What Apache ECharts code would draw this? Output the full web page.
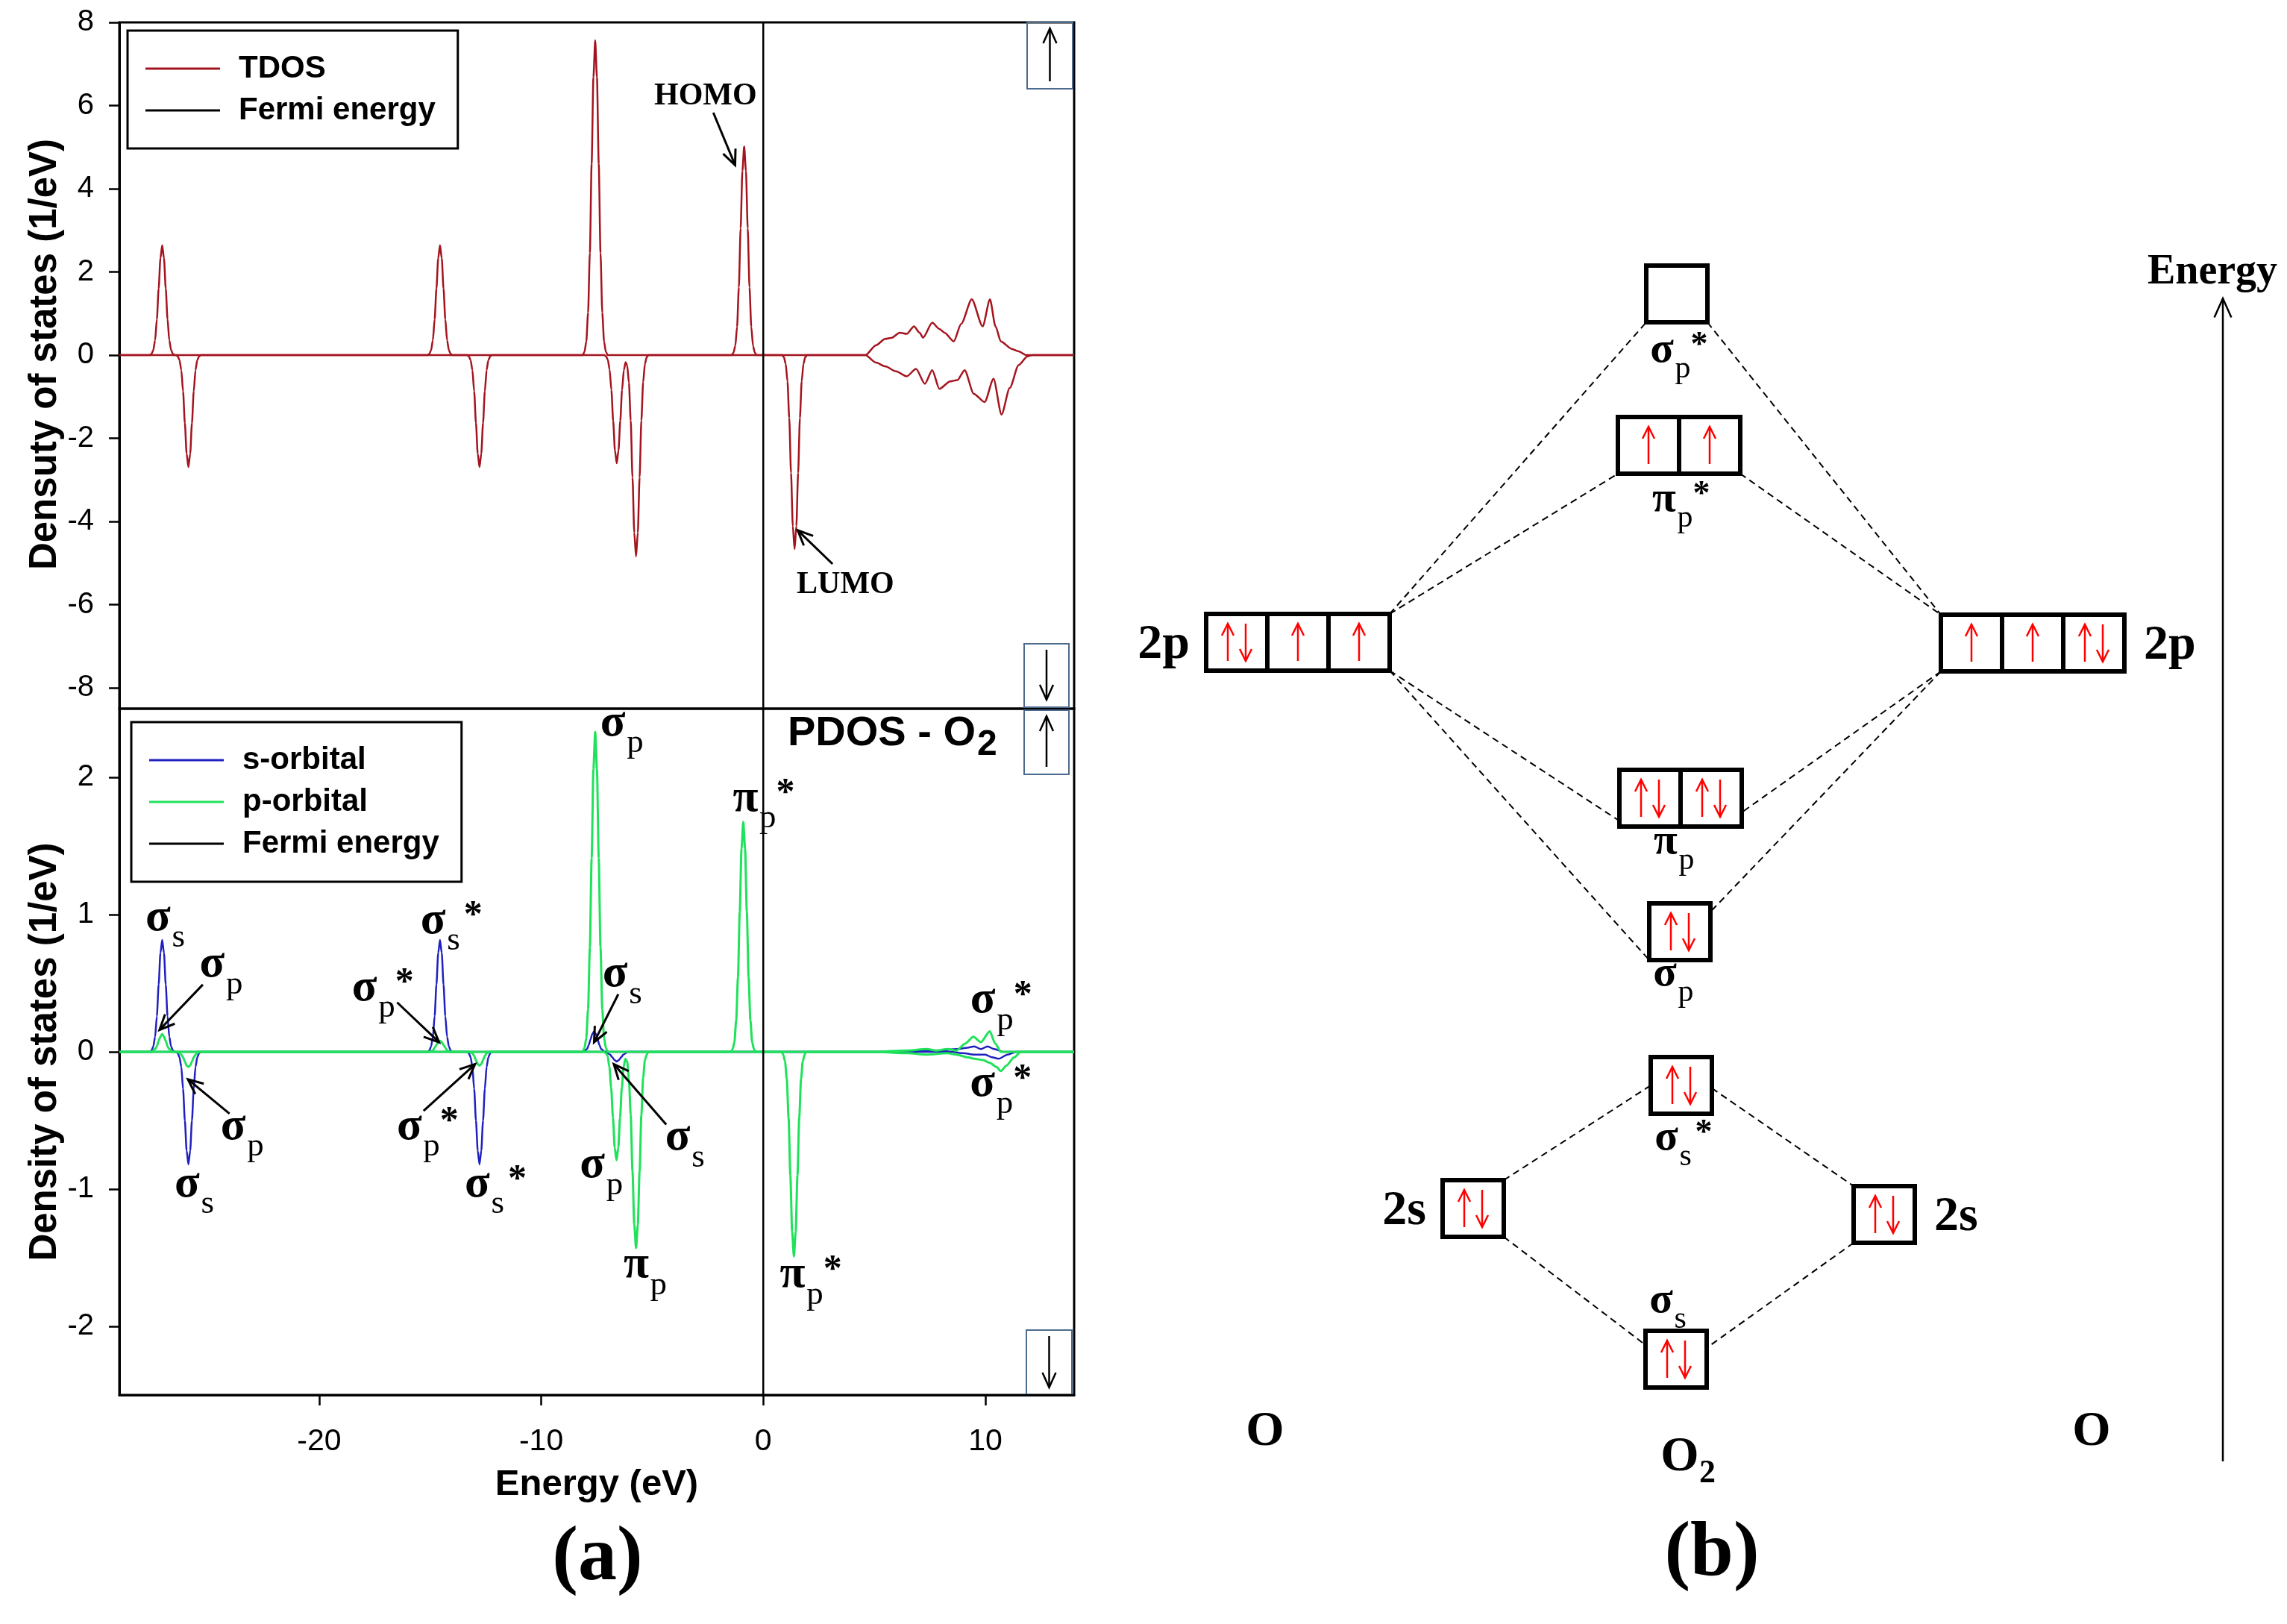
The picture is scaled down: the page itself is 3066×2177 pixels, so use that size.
<!DOCTYPE html>
<html><head><meta charset="utf-8">
<script src="https://cdn.jsdelivr.net/npm/echarts@6/dist/echarts.min.js"></script>
<style>html,body{margin:0;padding:0;background:#fff}#c{width:3066px;height:2177px}</style>
</head><body><div id="c"></div><script>
// ---------- Panel (a) data: energy (eV) vs DOS (1/eV) ----------
const tdosUp = [[-29,0],
[-27.63,0],[-27.55,0.03],[-27.47,0.12],[-27.39,0.36],[-27.31,0.86],[-27.23,1.6],[-27.15,2.33],[-27.07,2.64],[-26.99,2.33],[-26.91,1.6],[-26.83,0.86],[-26.75,0.36],[-26.67,0.12],[-26.59,0.03],[-26.51,0],
[-15.12,0],[-15.04,0.03],[-14.96,0.12],[-14.88,0.36],[-14.8,0.86],[-14.72,1.6],[-14.64,2.33],[-14.56,2.64],[-14.48,2.33],[-14.4,1.6],[-14.32,0.86],[-14.24,0.36],[-14.16,0.12],[-14.08,0.03],[-14,0],
[-8.13,0],[-8.05,0.08],[-7.97,0.33],[-7.89,1.02],[-7.81,2.46],[-7.73,4.6],[-7.65,6.68],[-7.57,7.57],[-7.49,6.68],[-7.41,4.6],[-7.33,2.46],[-7.25,1.02],[-7.17,0.33],[-7.09,0.08],[-7.01,0],
[-1.42,0],[-1.34,0.06],[-1.26,0.22],[-1.18,0.68],[-1.1,1.63],[-1.02,3.05],[-0.94,4.43],[-0.86,5.02],[-0.78,4.43],[-0.7,3.05],[-0.62,1.63],[-0.54,0.68],[-0.46,0.22],[-0.38,0.06],[-0.3,0],
[4.6,0],[5.08,0.24],[5.49,0.39],[5.8,0.42],[6.14,0.54],[6.46,0.51],[6.79,0.69],[7.04,0.54],[7.2,0.42],[7.61,0.78],[7.93,0.63],[8.16,0.54],[8.58,0.33],[8.91,0.75],[9.39,1.34],[9.88,0.69],[10.21,1.34],[10.46,0.69],[10.7,0.33],[11.19,0.15],[11.5,0.09],[11.84,0],
[14,0]];
const tdosDown = [[-29,0],
[-26.45,0],[-26.37,-0.03],[-26.29,-0.12],[-26.21,-0.36],[-26.13,-0.87],[-26.05,-1.63],[-25.97,-2.37],[-25.89,-2.69],[-25.81,-2.37],[-25.73,-1.63],[-25.65,-0.87],[-25.57,-0.36],[-25.49,-0.12],[-25.41,-0.03],[-25.33,0],
[-13.34,0],[-13.26,-0.03],[-13.18,-0.12],[-13.1,-0.36],[-13.02,-0.87],[-12.94,-1.63],[-12.86,-2.37],[-12.78,-2.69],[-12.7,-2.37],[-12.62,-1.63],[-12.54,-0.87],[-12.46,-0.36],[-12.38,-0.12],[-12.3,-0.03],[-12.22,0],
[-7.16,0],[-7.08,-0.03],[-7,-0.11],[-6.92,-0.35],[-6.84,-0.84],[-6.76,-1.58],[-6.68,-2.29],[-6.6,-2.6],[-6.52,-2.29],[-6.44,-1.58],[-6.36,-0.84],[-6.28,-0.36],[-6.2,-0.17],[-6.13,-0.25],[-6.05,-0.66],[-5.97,-1.57],[-5.89,-2.94],[-5.81,-4.27],[-5.73,-4.84],[-5.65,-4.27],[-5.57,-2.94],[-5.49,-1.57],[-5.41,-0.65],[-5.33,-0.21],[-5.25,-0.05],[-5.17,0],
[0.85,0],[0.93,-0.05],[1.01,-0.21],[1.09,-0.63],[1.17,-1.51],[1.25,-2.83],[1.33,-4.11],[1.41,-4.66],[1.49,-4.11],[1.57,-2.83],[1.65,-1.51],[1.73,-0.63],[1.81,-0.21],[1.89,-0.05],[1.97,0],
[4.6,0],[5.08,-0.18],[5.49,-0.27],[5.98,-0.39],[6.46,-0.51],[6.88,-0.33],[7.28,-0.69],[7.61,-0.36],[7.93,-0.81],[8.42,-0.63],[8.74,-0.6],[9.07,-0.36],[9.48,-0.93],[9.97,-1.13],[10.37,-0.57],[10.73,-1.43],[11.1,-0.79],[11.5,-0.24],[11.9,-0.03],[12.1,0],
[14,0]];
const sUp = [[-29,0],
[-27.63,0],[-27.55,0.01],[-27.47,0.04],[-27.39,0.11],[-27.31,0.26],[-27.23,0.49],[-27.15,0.72],[-27.07,0.815],[-26.99,0.72],[-26.91,0.49],[-26.83,0.26],[-26.75,0.11],[-26.67,0.04],[-26.59,0.01],[-26.51,0],
[-15.12,0],[-15.04,0.01],[-14.96,0.04],[-14.88,0.11],[-14.8,0.26],[-14.72,0.49],[-14.64,0.72],[-14.56,0.815],[-14.48,0.72],[-14.4,0.49],[-14.32,0.26],[-14.24,0.11],[-14.16,0.04],[-14.08,0.01],[-14,0],
[-8.1,0],[-7.94,0.02],[-7.86,0.05],[-7.78,0.09],[-7.7,0.13],[-7.62,0.15],[-7.54,0.13],[-7.46,0.09],[-7.38,0.05],[-7.3,0.02],[-7.14,0],
[5,0],[7.3,0.01],[8,0.01],[8.7,0.02],[9.2,0.03],[9.5,0.04],[9.8,0.02],[10.1,0.04],[10.4,0.02],[10.8,0],
[14,0]];
const sDown = [[-29,0],
[-26.45,0],[-26.37,-0.01],[-26.29,-0.04],[-26.21,-0.11],[-26.13,-0.27],[-26.05,-0.5],[-25.97,-0.72],[-25.89,-0.82],[-25.81,-0.72],[-25.73,-0.5],[-25.65,-0.27],[-25.57,-0.11],[-25.49,-0.04],[-25.41,-0.01],[-25.33,0],
[-13.34,0],[-13.26,-0.01],[-13.18,-0.04],[-13.1,-0.11],[-13.02,-0.27],[-12.94,-0.5],[-12.86,-0.72],[-12.78,-0.82],[-12.7,-0.72],[-12.62,-0.5],[-12.54,-0.27],[-12.46,-0.11],[-12.38,-0.04],[-12.3,-0.01],[-12.22,0],
[-7.1,0],[-6.9,-0.02],[-6.8,-0.04],[-6.7,-0.06],[-6.6,-0.07],[-6.5,-0.06],[-6.4,-0.04],[-6.3,-0.02],[-6.1,0],
[8.5,0],[9,-0.01],[9.5,-0.02],[10,-0.02],[10.3,-0.04],[10.6,-0.05],[11,-0.02],[11.4,0],
[14,0]];
const pUp = [[-29,0],
[-27.55,0],[-27.47,0.01],[-27.39,0.02],[-27.31,0.04],[-27.23,0.08],[-27.15,0.11],[-27.07,0.13],[-26.99,0.11],[-26.91,0.08],[-26.83,0.04],[-26.75,0.02],[-26.67,0.01],[-26.59,0],
[-15.04,0],[-14.88,0.01],[-14.8,0.03],[-14.72,0.05],[-14.64,0.07],[-14.56,0.08],[-14.48,0.07],[-14.4,0.05],[-14.32,0.03],[-14.24,0.01],[-14.08,0],
[-8.13,0],[-8.05,0.03],[-7.97,0.1],[-7.89,0.31],[-7.81,0.76],[-7.73,1.41],[-7.65,2.06],[-7.57,2.33],[-7.49,2.06],[-7.41,1.41],[-7.33,0.76],[-7.25,0.31],[-7.17,0.1],[-7.09,0.03],[-7.01,0],
[-1.46,0],[-1.38,0.02],[-1.3,0.07],[-1.22,0.23],[-1.14,0.54],[-1.06,1.02],[-0.98,1.48],[-0.9,1.675],[-0.82,1.48],[-0.74,1.02],[-0.66,0.54],[-0.58,0.23],[-0.5,0.07],[-0.42,0.02],[-0.34,0],
[5,0],[6.5,0.01],[7.35,0.02],[7.8,0.01],[8.3,0.02],[8.7,0.01],[9.1,0.06],[9.46,0.11],[9.8,0.07],[10.2,0.15],[10.45,0.06],[10.7,0],
[14,0]];
const pDown = [[-29,0],
[-26.37,0],[-26.29,-0.01],[-26.21,-0.02],[-26.13,-0.04],[-26.05,-0.07],[-25.97,-0.1],[-25.89,-0.11],[-25.81,-0.1],[-25.73,-0.07],[-25.65,-0.04],[-25.57,-0.02],[-25.49,-0.01],[-25.41,0],
[-13.26,0],[-13.1,-0.01],[-13.02,-0.03],[-12.94,-0.06],[-12.86,-0.09],[-12.78,-0.1],[-12.7,-0.09],[-12.62,-0.06],[-12.54,-0.03],[-12.46,-0.01],[-12.3,0],
[-7.17,0],[-7.09,-0.01],[-7.01,-0.03],[-6.93,-0.11],[-6.85,-0.26],[-6.77,-0.48],[-6.69,-0.7],[-6.61,-0.79],[-6.53,-0.7],[-6.45,-0.48],[-6.37,-0.26],[-6.29,-0.11],[-6.21,-0.05],[-6.13,-0.07],[-6.05,-0.2],[-5.97,-0.46],[-5.89,-0.87],[-5.81,-1.26],[-5.73,-1.43],[-5.65,-1.26],[-5.57,-0.87],[-5.49,-0.46],[-5.41,-0.19],[-5.33,-0.06],[-5.25,-0.02],[-5.17,0],
[0.82,0],[0.9,-0.02],[0.98,-0.07],[1.06,-0.2],[1.14,-0.48],[1.22,-0.9],[1.3,-1.31],[1.38,-1.49],[1.46,-1.31],[1.54,-0.9],[1.62,-0.48],[1.7,-0.2],[1.78,-0.07],[1.86,-0.02],[1.94,0],
[5,0],[6.5,-0.01],[7.35,-0.02],[8.3,-0.01],[8.7,-0.02],[9.2,-0.04],[9.5,-0.05],[9.9,-0.06],[10.2,-0.08],[10.5,-0.11],[10.7,-0.14],[10.95,-0.1],[11.3,-0.04],[11.6,0],
[14,0]];
const fermiTop = [[0,-8.5],[0,8]];
const fermiBottom = [[0,-2.5],[0,2.5]];
const energyTicks = [-20,-10,0,10];
const tdosTicks = [-8,-6,-4,-2,0,2,4,6,8];
const pdosTicks = [-2,-1,0,1,2];

// Annotations: [greek, sub, star, x(eV), y(DOS)]
const pdosLabels = [
 ['σ','s',false,-27.26,0.94],['σ','p',false,-24.82,0.60],['σ','s',true,-14.87,0.92],['σ','p',true,-17.96,0.43],
 ['σ','p',false,-23.87,-0.58],['σ','s',false,-25.95,-1.0],['σ','p',true,-15.94,-0.58],['σ','s',true,-12.88,-1.0],
 ['σ','p',false,-6.77,2.36],['π','p',true,-0.8,1.81],['σ','s',false,-6.67,0.53],['σ','s',false,-3.85,-0.66],
 ['σ','p',false,-7.7,-0.86],['π','p',false,-5.72,-1.59],['π','p',true,1.32,-1.66],['σ','p',true,9.89,0.34],['σ','p',true,9.87,-0.27]
];
// arrows: [x1,y1,x2,y2] (tail -> head)
const pdosArrows = [[-25.24,0.49,-27.19,0.16],[-16.49,0.36,-14.6,0.07],[-24.04,-0.45,-25.91,-0.2],[-15.3,-0.43,-12.98,-0.09],[-6.53,0.42,-7.62,0.07],[-4.37,-0.53,-6.73,-0.09]];
const tdosLabels = [['HOMO',-2.6,6.22],['LUMO',3.7,-5.52]];
const tdosArrows = [[-2.25,5.83,-1.27,4.57],[3.12,-5.02,1.55,-4.21]];

// ---------- Panel (b): MO diagram (arbitrary diagram units) ----------
const moNames    = ['σp*','πp*','2p(L)','2p(R)','πp','σp','σs*','2s(L)','2s(R)','σs'];
const moColumn   = [7.48, 7.51, 2.40, 12.25, 7.53, 7.52, 7.54, 4.75, 10.26, 7.47];
const moEnergy   = [16.06, 14.03, 11.39, 11.38, 9.30, 7.51, 5.45, 3.80, 3.72, 1.78];
const moElectrons = [[''],['↑','↑'],['↑↓','↑','↑'],['↑','↑','↑↓'],['↑↓','↑↓'],['↑↓'],['↑↓'],['↑↓'],['↑↓'],['↑↓']];
const moGreek  = ['σ','π','2p','2p','π','σ','σ','2s','2s','σ'];
const moSub    = ['p','p','','','p','p','s','','','s'];
const moStar   = [true,true,false,false,false,false,true,false,false,false];
const moLabelSide = ['below','below','left','right','below','below','below','left','right','above'];
// connections: [fromLevel, side(-1 L/1 R), fy(0 top..1 bottom), toLevel, side, fy]
const moLinks = [[2,1,0,0,-1,1],[2,1,0,1,-1,1],[0,1,1,3,-1,0],[1,1,1,3,-1,0],
 [2,1,1,4,-1,0.9],[2,1,1,5,-1,1],[3,-1,1,4,1,0.75],[3,-1,1,5,1,0.15],
 [7,1,0,6,-1,0.5],[6,1,0.55,8,-1,0],[7,1,1,9,-1,0.25],[8,-1,1,9,1,0.3]];
const atomLabels = [['O','',1.96,0.8],['O','2',7.62,0.46],['O','',13.04,0.8]];
const energyArrow = [14.8,0.41,14.8,16.0];

const SANS = '"Liberation Sans", Arial, sans-serif';
const SERIF = '"Liberation Serif", "Times New Roman", serif';
const RED = '#a3141e', BLUE = '#2020c0', GREEN = '#1fe25a';

const chart = echarts.init(document.getElementById('c'), null, {renderer:'canvas'});

const BW = 82, BH = 76;
function levelRect(api, i) {
  const c = api.coord([moColumn[i], moEnergy[i]]);
  const n = moElectrons[i].length;
  return {x0: c[0] - n*BW/2, x1: c[0] + n*BW/2, y0: c[1]-BH/2, y1: c[1]+BH/2, cx: c[0], cy: c[1], n};
}
function spinArrow(x, cy, up) {
  const L = 25, h = 16, w = 8;
  const tip = up ? cy - L : cy + L;
  const s = up ? 1 : -1;
  return [
    {type:'line', shape:{x1:x, y1:cy + (up?L:-L), x2:x, y2:tip}, style:{stroke:'#ff0000', lineWidth:2.5}},
    {type:'polyline', shape:{points:[[x-w, tip + s*h],[x, tip],[x+w, tip + s*h]]}, style:{stroke:'#ff0000', lineWidth:2.5, fill:null}}
  ];
}
function greekChildren(px, py, g, sub, star, S) {
  const out = [{type:'text', x:px, y:py - 0.1*S, style:{text:g, font:'bold '+S+'px '+SERIF, fill:'#000', align:'center', verticalAlign:'middle'}}];
  const subS = Math.round(S*0.72);
  const sx = px + 0.3*S;
  if (sub) out.push({type:'text', x:sx, y:py + 0.33*S, style:{text:sub, font:subS+'px '+SERIF, fill:'#000', align:'left', verticalAlign:'middle'}});
  if (star) out.push({type:'text', x:sx + 0.5*subS, y:py - 0.2*S, style:{text:'*', font:'bold '+Math.round(S*0.8)+'px '+SERIF, fill:'#000', align:'left', verticalAlign:'middle'}});
  return out;
}

function renderLevel(params, api) {
  const i = api.value(2);
  const r = levelRect(api, i);
  const ch = [];
  for (let j = 0; j < r.n; j++) {
    const bx = r.x0 + j*BW;
    ch.push({type:'rect', shape:{x:bx, y:r.y0, width:BW, height:BH}, style:{fill:'#fff', stroke:'#000', lineWidth:6}});
    const e = moElectrons[i][j], cx = bx + BW/2;
    if (e === '↑') ch.push(...spinArrow(cx, r.cy, true));
    else if (e === '↑↓') { ch.push(...spinArrow(cx-12, r.cy, true)); ch.push(...spinArrow(cx+12, r.cy, false)); }
  }
  const side = moLabelSide[i];
  if (side === 'left' || side === 'right') {
    ch.push({type:'text', x: side==='left' ? r.x0 - 22 : r.x1 + 26, y: r.cy + 4,
      style:{text:moGreek[i], font:'bold 66px '+SERIF, fill:'#000', align: side==='left'?'right':'left', verticalAlign:'middle'}});
  } else {
    const off = {0:82,1:79,4:65,5:63,6:77,9:-72}[i];
    ch.push(...greekChildren(r.cx - 20, r.cy + off, moGreek[i], moSub[i], moStar[i], 58));
  }
  return {type:'group', children:ch};
}
function renderLink(params, api) {
  const k = api.value(0);
  const L = moLinks[k];
  const a = levelRect(api, L[0]), b = levelRect(api, L[3]);
  const p1 = [L[1] > 0 ? a.x1 : a.x0, a.y0 + L[2]*BH];
  const p2 = [L[4] > 0 ? b.x1 : b.x0, b.y0 + L[5]*BH];
  return {type:'line', shape:{x1:p1[0], y1:p1[1], x2:p2[0], y2:p2[1]}, style:{stroke:'#000', lineWidth:2, lineDash:[9,6]}};
}

const tickLabel = {color:'#000', fontFamily:SANS};
const legendText = {fontSize:42, fontWeight:'bold', fontFamily:SANS, color:'#000', padding:[0,0,0,20], lineHeight:46};
const lineSeries = (name, xi, data, color, w) => ({name, type:'line', xAxisIndex:xi, yAxisIndex:xi, data, showSymbol:false, symbol:'none', color, lineStyle:{color, width:w}, smooth:0.25, smoothMonotone:'x'});
const option = {
  animation:false,
  backgroundColor:'#fff',
  grid:[
    {left:160, top:30, width:1280, height:920, show:true, borderColor:'#000', borderWidth:3, backgroundColor:'transparent'},
    {left:160, top:950, width:1280, height:920, show:true, borderColor:'#000', borderWidth:3, backgroundColor:'transparent'},
    {left:1500, top:300, width:1500, height:1700, show:false}
  ],
  xAxis:[
    {gridIndex:0, type:'value', min:-29, max:14, axisLine:{show:false}, axisTick:{show:false}, axisLabel:{show:false}, splitLine:{show:false}},
    {gridIndex:1, type:'value', min:-29, max:14, axisLine:{show:true, onZero:false, lineStyle:{color:'#000', width:3}},
      axisTick:{show:true, length:14, lineStyle:{color:'#000', width:2.5}, customValues:energyTicks},
      axisLabel:Object.assign({fontSize:41, margin:42, customValues:energyTicks}, tickLabel), splitLine:{show:false},
      name:'Energy (eV)', nameLocation:'middle', nameGap:96, nameTextStyle:{fontSize:49, fontWeight:'bold', fontFamily:SANS, color:'#000'}},
    {gridIndex:2, type:'value', min:0, max:15, show:false}
  ],
  yAxis:[
    {gridIndex:0, type:'value', min:-8.5, max:8, axisLine:{show:true, onZero:false, lineStyle:{color:'#000', width:3}},
      axisTick:{show:true, length:14, lineStyle:{color:'#000', width:2.5}, customValues:tdosTicks},
      axisLabel:Object.assign({fontSize:40, margin:34, customValues:tdosTicks}, tickLabel), splitLine:{show:false},
      name:'Densuty of states (1/eV)', nameLocation:'middle', nameGap:72, nameTextStyle:{fontSize:51, fontWeight:'bold', fontFamily:SANS, color:'#000', padding:[0,0,0,30]}},
    {gridIndex:1, type:'value', min:-2.5, max:2.5, axisLine:{show:true, onZero:false, lineStyle:{color:'#000', width:3}},
      axisTick:{show:true, length:14, lineStyle:{color:'#000', width:2.5}, customValues:pdosTicks},
      axisLabel:Object.assign({fontSize:40, margin:34, customValues:pdosTicks}, tickLabel), splitLine:{show:false},
      name:'Density of states (1/eV)', nameLocation:'middle', nameGap:72, nameTextStyle:{fontSize:51, fontWeight:'bold', fontFamily:SANS, color:'#000'}},
    {gridIndex:2, type:'value', min:0, max:17, show:false}
  ],
  legend:[
    {data:['TDOS','Fermi energy'], orient:'vertical', left:171, top:41, padding:[28,30,28,24], itemGap:10, itemWidth:100, itemHeight:3, icon:'rect',
      textStyle:legendText, borderColor:'#000', borderWidth:3, backgroundColor:'#fff', selectedMode:false},
    {data:['s-orbital','p-orbital','Fermi energy'], orient:'vertical', left:176, top:968, padding:[28,30,28,24], itemGap:10, itemWidth:100, itemHeight:3, icon:'rect',
      textStyle:legendText, borderColor:'#000', borderWidth:3, backgroundColor:'#fff', selectedMode:false}
  ],
  series:[
    lineSeries('TDOS', 0, tdosUp, RED, 2.5),
    lineSeries('TDOS', 0, tdosDown, RED, 2.5),
    lineSeries('Fermi energy', 0, fermiTop, '#000', 2.5),
    lineSeries('s-orbital', 1, sUp, BLUE, 2.5),
    lineSeries('s-orbital', 1, sDown, BLUE, 2.5),
    lineSeries('p-orbital', 1, pUp, GREEN, 3),
    lineSeries('p-orbital', 1, pDown, GREEN, 3),
    lineSeries('Fermi energy', 1, fermiBottom, '#000', 2.5),
    {name:'links', type:'custom', xAxisIndex:2, yAxisIndex:2, renderItem:renderLink, data:moLinks.map((_,k)=>[k,0]), z:1, silent:true},
    {name:'levels', type:'custom', xAxisIndex:2, yAxisIndex:2, renderItem:renderLevel, data:moNames.map((_,i)=>[moColumn[i], moEnergy[i], i]), z:3, silent:true}
  ]
};
chart.setOption(option);

// ---------- Annotations placed through the axes' scales ----------
function P(g, xy) { return chart.convertToPixel({gridIndex:g}, xy); }
function arrowEls(a, b, color, lw, head) {
  const dx = b[0]-a[0], dy = b[1]-a[1], len = Math.hypot(dx,dy), ux = dx/len, uy = dy/len;
  const ang = 0.42, hx = -ux*head, hy = -uy*head;
  const r = (x,y,t)=>[x*Math.cos(t)-y*Math.sin(t), x*Math.sin(t)+y*Math.cos(t)];
  const h1 = r(hx,hy,ang), h2 = r(hx,hy,-ang);
  return [
    {type:'line', shape:{x1:a[0], y1:a[1], x2:b[0], y2:b[1]}, style:{stroke:color, lineWidth:lw}},
    {type:'polyline', shape:{points:[[b[0]+h1[0], b[1]+h1[1]], b, [b[0]+h2[0], b[1]+h2[1]]]}, style:{stroke:color, lineWidth:lw, fill:null}}
  ];
}
const g = [];
tdosLabels.forEach(t => { const p = P(0,[t[1],t[2]]); g.push({type:'text', x:p[0], y:p[1], z:50, style:{text:t[0], font:'bold 42px '+SERIF, fill:'#000', align:'center', verticalAlign:'middle'}}); });
tdosArrows.forEach(a => g.push(...arrowEls(P(0,[a[0],a[1]]), P(0,[a[2],a[3]]), '#000', 3, 22).map(e=>Object.assign(e,{z:50}))));
pdosLabels.forEach(l => { const p = P(1,[l[3],l[4]]); g.push({type:'group', z:50, children:greekChildren(p[0], p[1], l[0], l[1], l[2], 62)}); });
pdosArrows.forEach(a => g.push(...arrowEls(P(1,[a[0],a[1]]), P(1,[a[2],a[3]]), '#000', 3, 22).map(e=>Object.assign(e,{z:50}))));

// spin-direction boxes at the plot corners
function spinBox(x, y, w, h, up) {
  const cx = x + w/2;
  const a = up ? [cx, y+h-10] : [cx, y+8], b = up ? [cx, y+8] : [cx, y+h-10];
  return {type:'group', z:60, children:[
    {type:'rect', shape:{x, y, width:w, height:h}, style:{fill:null, stroke:'#4d6b8c', lineWidth:2}},
    ...arrowEls(a, b, '#000', 2.5, 22)
  ]};
}
const tTR = P(0,[14,8]), tBR = P(0,[14,-8.5]), bTR = P(1,[14,2.5]), bBR = P(1,[14,-2.5]);
g.push(spinBox(tTR[0]-63, tTR[1], 61, 89, true));
g.push(spinBox(tBR[0]-67, tBR[1]-87, 60, 85, false));
g.push(spinBox(bTR[0]-67, bTR[1]+2, 60, 86, true));
g.push(spinBox(bBR[0]-64, bBR[1]-87, 61, 87, false));

// PDOS - O2 title
const pt = P(1,[1.1,2.32]);
g.push({type:'text', x:pt[0], y:pt[1], z:50, style:{text:'PDOS - O', font:'bold 56px '+SANS, fill:'#000', align:'left', verticalAlign:'middle'}});
g.push({type:'text', x:pt[0]+254, y:pt[1]+16, z:50, style:{text:'2', font:'bold 48px '+SANS, fill:'#000', align:'left', verticalAlign:'middle'}});

// Panel (b) atom labels and energy arrow
atomLabels.forEach(a => {
  const p = P(2,[a[2],a[3]]);
  g.push({type:'text', x:p[0] + (a[1]? -10:0), y:p[1], style:{text:a[0], font:'bold 66px '+SERIF, fill:'#000', align:'center', verticalAlign:'middle'}});
  if (a[1]) g.push({type:'text', x:p[0]+16, y:p[1]+22, style:{text:a[1], font:'bold 44px '+SERIF, fill:'#000', align:'left', verticalAlign:'middle'}});
});
const ea = P(2,[energyArrow[0],energyArrow[1]]), eb = P(2,[energyArrow[2],energyArrow[3]]);
g.push(...arrowEls(ea, eb, '#000', 2.5, 28));
const et = P(2,[14.66,16.34]);
g.push({type:'text', x:et[0], y:et[1], style:{text:'Energy', font:'bold 56px '+SERIF, fill:'#000', align:'center', verticalAlign:'middle'}});

// panel captions
g.push({type:'text', x:801, y:2090, style:{text:'(a)', font:'bold 104px '+SERIF, fill:'#000', align:'center', verticalAlign:'middle'}});
g.push({type:'text', x:2295, y:2084, style:{text:'(b)', font:'bold 104px '+SERIF, fill:'#000', align:'center', verticalAlign:'middle'}});

chart.setOption({graphic:{elements:g}});
</script></body></html>
